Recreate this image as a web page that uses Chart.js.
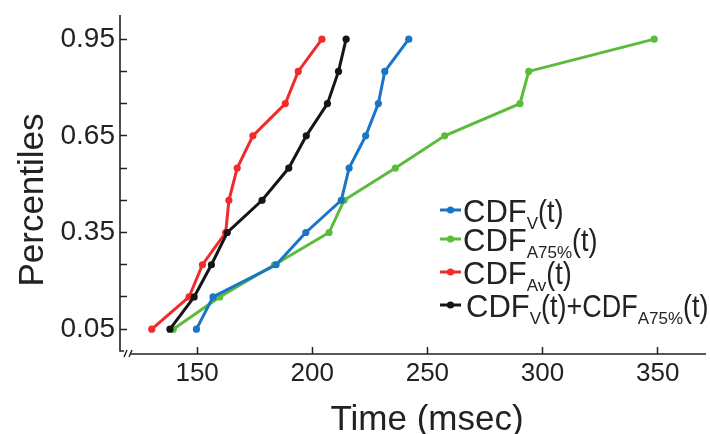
<!DOCTYPE html>
<html>
<head>
<meta charset="utf-8">
<script src="https://cdn.jsdelivr.net/npm/chart.js@4/dist/chart.umd.min.js"></script>
<style>
html, body { margin: 0; padding: 0; background: #fff; }
#wrap { width: 710px; height: 434px; position: relative; }
</style>
</head>
<body>
<div id="wrap"><canvas id="cdf"></canvas></div>
<script>
// percentile levels (y) shared by all curves
const percentiles = [0.05, 0.15, 0.25, 0.35, 0.45, 0.55, 0.65, 0.75, 0.85, 0.95];

// time in msec for each percentile
const cdfV    = [149.7, 156.9, 184.3, 197.2, 212.6, 216.0, 223.2, 228.7, 231.5, 241.9];
const cdfA75  = [139.6, 159.8, 183.6, 207.3, 213.8, 236.1, 257.5, 290.2, 294.0, 348.5];
const cdfAv   = [130.3, 146.5, 152.3, 162.4, 163.8, 167.4, 174.2, 188.3, 193.9, 204.2];
const cdfSum  = [138.2, 148.7, 156.2, 163.1, 178.2, 189.8, 197.4, 206.6, 211.4, 214.7];

const xTicks = [150, 200, 250, 300, 350];
const yTicks = [0.05, 0.15, 0.25, 0.35, 0.45, 0.55, 0.65, 0.75, 0.85, 0.95];
const yLabels = [0.05, 0.35, 0.65, 0.95];

const colBlue = '#1b75c6', colGreen = '#5bbb3b', colRed = '#ef2b2b', colBlack = '#151515';
const textCol = '#222';
const FONT = '"Liberation Sans", Arial, sans-serif';

// legend entries: [text, isSubscript]
const legendRows = [
  { color: colBlue,  parts: [['CDF', 0], ['V', 1], ['(t)', 0]] },
  { color: colGreen, parts: [['CDF', 0], ['A75%', 1], ['(t)', 0]] },
  { color: colRed,   parts: [['CDF', 0], ['Av', 1], ['(t)', 0]] },
  { color: colBlack, parts: [['CDF', 0], ['V', 1], ['(t)+CDF', 0], ['A75%', 1], ['(t)', 0]] }
];

function toPts(xs) {
  return xs.map((v, i) => ({ x: v, y: percentiles[i] }));
}

function ds(label, xs, color) {
  return {
    label: label,
    data: toPts(xs),
    borderColor: color,
    backgroundColor: color,
    borderWidth: 3,
    pointRadius: 3.6,
    pointBorderWidth: 0,
    pointBackgroundColor: color,
    tension: 0
  };
}

// axes with a break at the corner, titles, and legend with subscripts
const decor = {
  id: 'decor',
  afterDraw(chart) {
    const ctx = chart.ctx;
    const a = chart.chartArea;
    const xs = chart.scales.x, ys = chart.scales.y;
    ctx.save();
    ctx.strokeStyle = textCol;
    ctx.lineWidth = 1.6;
    ctx.beginPath();
    ctx.moveTo(a.left, a.top);
    ctx.lineTo(a.left, a.bottom - 3);
    ctx.lineTo(a.left + 4, a.bottom - 3);
    ctx.stroke();
    ctx.beginPath();
    ctx.moveTo(a.left + 11, a.bottom);
    ctx.lineTo(a.right, a.bottom);
    ctx.stroke();
    // break marks
    ctx.lineWidth = 1.4;
    ctx.beginPath();
    ctx.moveTo(a.left + 4, a.bottom + 3); ctx.lineTo(a.left + 7, a.bottom - 4);
    ctx.moveTo(a.left + 9, a.bottom + 3); ctx.lineTo(a.left + 12, a.bottom - 4);
    ctx.stroke();

    // axis titles
    ctx.fillStyle = textCol;
    ctx.font = '35px ' + FONT;
    ctx.textAlign = 'center';
    ctx.textBaseline = 'alphabetic';
    ctx.fillText('Time (msec)', 427, 430);
    ctx.save();
    ctx.translate(43, 200);
    ctx.rotate(-Math.PI / 2);
    ctx.fillText('Percentiles', 0, 0);
    ctx.restore();

    // legend
    const baselines = [222, 251, 284, 317];
    ctx.textAlign = 'left';
    legendRows.forEach((row, i) => {
      const by = baselines[i];
      const my = by - 12;
      ctx.strokeStyle = row.color;
      ctx.fillStyle = row.color;
      ctx.lineWidth = 3;
      ctx.beginPath();
      ctx.moveTo(440, my); ctx.lineTo(461, my);
      ctx.stroke();
      ctx.beginPath();
      ctx.arc(450.5, my, 3.6, 0, Math.PI * 2);
      ctx.fill();
      let x = i === 3 ? 466 : 463;
      ctx.fillStyle = textCol;
      row.parts.forEach(p => {
        if (p[1]) {
          ctx.font = '17px ' + FONT;
          const w = ctx.measureText(p[0]).width;
          ctx.fillText(p[0], x, by + 7);
          x += w;
        } else {
          ctx.font = '31px ' + FONT;
          let w = ctx.measureText(p[0]).width;
          if (p[0].indexOf('(') >= 0) w *= 0.87;
          ctx.fillText(p[0], x, by, w);
          x += w;
        }
      });
    });
    ctx.restore();
  }
};

new Chart(document.getElementById('cdf').getContext('2d'), {
  type: 'line',
  data: {
    datasets: [
      ds('CDF_V(t)+CDF_A75%(t)', cdfSum, colBlack),
      ds('CDF_Av(t)', cdfAv, colRed),
      ds('CDF_V(t)', cdfV, colBlue),
      ds('CDF_A75%(t)', cdfA75, colGreen)
    ]
  },
  options: {
    responsive: true,
    maintainAspectRatio: false,
    animation: false,
    layout: { padding: { top: 15, left: 0, right: 0, bottom: 0 } },
    plugins: {
      legend: { display: false },
      tooltip: { enabled: false }
    },
    scales: {
      x: {
        type: 'linear',
        min: 116.5,
        max: 371,
        afterBuildTicks: s => { s.ticks = xTicks.map(v => ({ value: v })); },
        afterFit: s => { s.height = 80; s.paddingLeft = 0; s.paddingRight = 0; },
        border: { display: false },
        grid: { drawOnChartArea: false, drawTicks: true, tickLength: -7, tickColor: textCol, tickWidth: 1.5 },
        ticks: { color: textCol, padding: 11, font: { family: FONT, size: 26 } }
      },
      y: {
        type: 'linear',
        min: -0.027,
        max: 1.025,
        afterBuildTicks: s => { s.ticks = yTicks.map(v => ({ value: v })); },
        afterFit: s => { s.width = 120; s.paddingTop = 0; s.paddingBottom = 0; },
        border: { display: false },
        grid: { drawOnChartArea: false, drawTicks: true, tickLength: -7, tickColor: textCol, tickWidth: 1.5 },
        ticks: {
          color: textCol,
          padding: 12,
          font: { family: FONT, size: 28 },
          callback: v => yLabels.some(l => Math.abs(l - v) < 1e-6) ? v.toFixed(2) : ''
        }
      }
    }
  },
  plugins: [decor]
});
</script>
</body>
</html>
